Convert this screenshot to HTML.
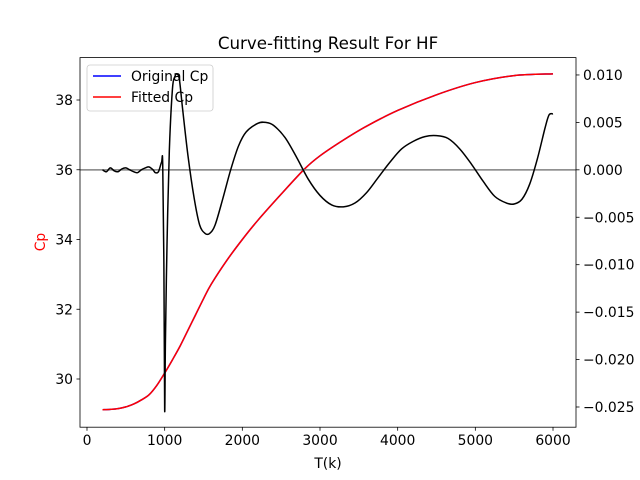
<!DOCTYPE html>
<html><head><meta charset="utf-8"><style>body{margin:0;background:#fff}svg{display:block;font-family:"DejaVu Sans","Liberation Sans",sans-serif}</style></head>
<body>
<svg id="chart" width="640" height="480" xmlns="http://www.w3.org/2000/svg">
<rect width="640" height="480" fill="#fff"/>
<g id="g"></g>
</svg>
<script>
const cpT=[200,300,400,500,600,700,800,900,1000,1100,1200,1300,1400,1500,1600,1800,2000,2200,2500,2800,3000,3300,3600,4000,4500,5000,5500,6000];
const cpFit=[29.12,29.13,29.15,29.2,29.28,29.4,29.55,29.82,30.17,30.55,30.95,31.4,31.85,32.3,32.72,33.4,34.0,34.55,35.3,36.02,36.4,36.85,37.25,37.7,38.15,38.5,38.7,38.75];
const errT=[200,250,300,350,400,450,500,550,600,650,700,750,800,850,880,920,960,975,990,1000,1010,1030,1060,1100,1130,1160,1190,1230,1300,1380,1450,1520,1580,1650,1750,1850,1950,2050,2200,2300,2400,2550,2700,2850,3000,3150,3300,3450,3600,3750,3900,4050,4200,4350,4500,4650,4800,4950,5100,5250,5400,5500,5600,5700,5800,5900,5950,6000];
const errV=[0,-0.0002,0.0002,-0.0001,-0.0002,0.0001,0.0002,0,-0.0002,-0.0003,0,0.0002,0.0003,0,-0.0003,-0.0002,0.0008,0.0006,-0.01,-0.0253,-0.018,-0.008,0.002,0.0085,0.0098,0.0101,0.0095,0.0065,0.0015,-0.003,-0.0058,-0.0067,-0.0067,-0.0058,-0.003,0,0.0025,0.004,0.0049,0.005,0.0047,0.0034,0.0013,-0.001,-0.0027,-0.0037,-0.0039,-0.0035,-0.0024,-0.0008,0.0008,0.0022,0.003,0.0035,0.0036,0.0033,0.0022,0.0006,-0.0012,-0.0028,-0.0035,-0.0036,-0.0031,-0.0015,0.0012,0.0045,0.0058,0.0059];
const xTicks=[0,1000,2000,3000,4000,5000,6000];
const yLTicks=[30,32,34,36,38];
const yRTicks=[0.010,0.005,0,-0.005,-0.010,-0.015,-0.020,-0.025];
const L=80,R=576,T=57.6,B=427.2;
const X=v=>L+(v+90)/(6296+90)*(R-L);
const YL=v=>T+(39.216-v)/(39.216-28.618)*(B-T);
const YR=v=>T+(0.01183-v)/(0.01183+0.02713)*(B-T);
const g=document.getElementById('g');
const NS='http://www.w3.org/2000/svg';
function mk(t,a,txt){const e=document.createElementNS(NS,t);for(const k in a)e.setAttribute(k,a[k]);if(txt!=null)e.textContent=txt;g.appendChild(e);return e;}
function smooth(pts){let d='M'+pts[0][0]+','+pts[0][1];
 for(let i=0;i<pts.length-1;i++){const p0=pts[Math.max(0,i-1)],p1=pts[i],p2=pts[i+1],p3=pts[Math.min(pts.length-1,i+2)];
  const c1=[p1[0]+(p2[0]-p0[0])/6,p1[1]+(p2[1]-p0[1])/6],c2=[p2[0]-(p3[0]-p1[0])/6,p2[1]-(p3[1]-p1[1])/6];
  d+=' C'+c1[0]+','+c1[1]+' '+c2[0]+','+c2[1]+' '+p2[0]+','+p2[1];}
 return d;}
const cpPts=cpT.map((t,i)=>[X(t),YL(cpFit[i])]);
let e=mk('path',{d:smooth(cpPts),fill:'none',stroke:'#0000ff','stroke-width':1.5});


e=mk('path',{d:smooth(cpPts),fill:'none',stroke:'#ff0000','stroke-width':1.5});


e=mk('rect',{x:87,y:65,width:126,height:46,rx:3,fill:'#fff','fill-opacity':0.8,stroke:'#ccc','stroke-width':0.8});


mk('line',{x1:93,x2:121,y1:76,y2:76,stroke:'#0000ff','stroke-width':1.5});
e=mk('text',{x:131,y:81,'font-size':13.9},'Original Cp');


mk('line',{x1:93,x2:121,y1:97,y2:97,stroke:'#ff0000','stroke-width':1.5});
e=mk('text',{x:131,y:102,'font-size':13.9},'Fitted Cp');


e=mk('line',{x1:L,x2:R,y1:YR(0),y2:YR(0),stroke:'#808080','stroke-width':1.5});


e=mk('path',{d:smooth(errT.map((t,i)=>[X(t),YR(errV[i])])),fill:'none',stroke:'#000','stroke-width':1.5,'stroke-linejoin':'round'});


e=mk('rect',{x:L,y:T,width:R-L,height:B-T,fill:'none',stroke:'#000','stroke-width':0.8});


xTicks.forEach(v=>{const x=X(v);mk('line',{x1:x,x2:x,y1:B,y2:B+3.5,stroke:'#000','stroke-width':0.8});
 const t=mk('text',{x:x,y:B+18,'font-size':13.9,'text-anchor':'middle'},v);
 
 });
yLTicks.forEach(v=>{const y=YL(v);mk('line',{x1:L-3.5,x2:L,y1:y,y2:y,stroke:'#000','stroke-width':0.8});
 const t=mk('text',{x:L-7,y:y+5,'font-size':13.9,'text-anchor':'end'},v);
 
 });
yRTicks.forEach(v=>{const y=YR(v);mk('line',{x1:R,x2:R+3.5,y1:y,y2:y,stroke:'#000','stroke-width':0.8});
 const t=mk('text',{x:R+7,y:y+5,'font-size':13.9},(v<0?'\u2212':'')+Math.abs(v).toFixed(3));
 
 });
e=mk('text',{x:328,y:468,'font-size':13.9,'text-anchor':'middle'},'T(k)');


e=mk('text',{x:45,y:242,'font-size':13.9,'text-anchor':'middle',fill:'#ff0000',transform:'rotate(-90 45 242)'},'Cp');


e=mk('text',{x:328,y:49,'font-size':16.7,'text-anchor':'middle'},'Curve-fitting Result For HF');


</script>
</body></html>
